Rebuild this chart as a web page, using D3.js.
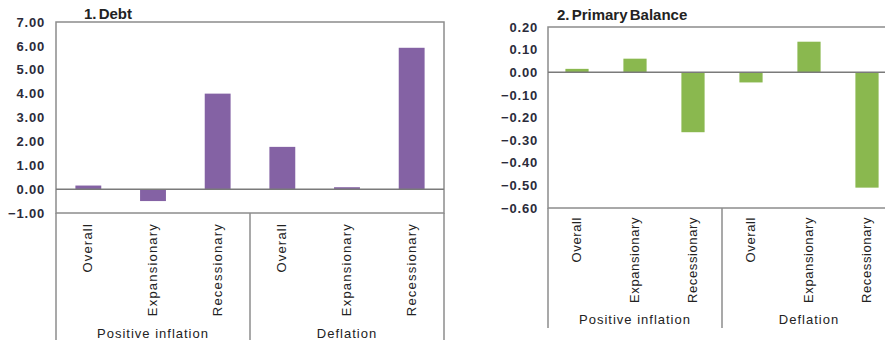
<!DOCTYPE html>
<html>
<head>
<meta charset="utf-8">
<script src="https://cdn.jsdelivr.net/npm/d3@7/dist/d3.min.js"></script>
<style>
  body { margin: 0; background: #fff; }
  svg { display: block; font-family: "Liberation Sans", Arial, sans-serif; }
</style>
</head>
<body>
<svg width="885" height="343"></svg>
<script>
const groups = ["Positive inflation", "Deflation"];
const regimes = ["Overall", "Expansionary", "Recessionary"];
const debtValues = [0.15, -0.50, 4.00, 1.77, 0.08, 5.92];
const balanceValues = [0.015, 0.06, -0.265, -0.045, 0.135, -0.51];
const debtTicks = [-1, 0, 1, 2, 3, 4, 5, 6, 7];
const balanceTicks = [-0.6, -0.5, -0.4, -0.3, -0.2, -0.1, 0, 0.1, 0.2];

const svg = d3.select("svg");
const frameColor = "#8c8c8c";

// one cell per (group, regime)
const cells = [];
groups.forEach((g, gi) => regimes.forEach((r, ri) => cells.push({ key: gi + "-" + ri, group: g, regime: r })));

function drawPanel(opt) {
  const g = svg.append("g");
  const x = d3.scaleBand()
    .domain(cells.map(d => d.key))
    .range([opt.left, opt.right])
    .paddingInner(0.6).paddingOuter(0.3);
  const y = d3.scaleLinear().domain(opt.domain).range([opt.bottom, opt.top]);
  const data = cells.map((c, i) => Object.assign({ value: opt.values[i] }, c));

  // frame
  g.append("rect")
    .attr("x", opt.left).attr("y", opt.top)
    .attr("width", opt.right - opt.left).attr("height", opt.bottom - opt.top)
    .attr("fill", "none").attr("stroke", frameColor).attr("stroke-width", 1.5);

  // bars
  g.selectAll("rect.bar").data(data).enter().append("rect")
    .attr("class", "bar")
    .attr("x", d => x(d.key))
    .attr("width", x.bandwidth())
    .attr("y", d => y(Math.max(0, d.value)))
    .attr("height", d => Math.abs(y(d.value) - y(0)))
    .attr("fill", opt.color);

  // zero line
  g.append("line")
    .attr("x1", opt.left).attr("x2", opt.right)
    .attr("y1", y(0)).attr("y2", y(0))
    .attr("stroke", "#7a7a7a").attr("stroke-width", 1.5);

  // value axis
  const axis = g.append("g")
    .attr("transform", `translate(${opt.left},0)`)
    .call(d3.axisLeft(y).tickValues(opt.ticks).tickSize(0).tickPadding(opt.pad).tickFormat(d3.format(".2f")));
  axis.select(".domain").remove();
  axis.selectAll("text")
    .attr("font-size", 13).attr("font-weight", "bold").attr("fill", "#2b2b3a")
    .attr("letter-spacing", 0.8)
    .attr("font-family", "'Liberation Sans', Arial, sans-serif");

  // category labels
  const step = x.step();
  g.selectAll("text.cat").data(data).enter().append("text")
    .attr("class", "cat")
    .attr("transform", d => `translate(${x(d.key) + x.bandwidth() / 2 + 4},${opt.bottom + opt.catPad})rotate(-90)`)
    .attr("text-anchor", "end")
    .attr("font-size", 13).attr("letter-spacing", opt.catLs).attr("fill", "#222")
    .text(d => d.regime);

  // group separators and labels
  const groupW = step * 3;
  [0, 1, 2].forEach(i => {
    g.append("line")
      .attr("x1", opt.left + i * groupW).attr("x2", opt.left + i * groupW)
      .attr("y1", opt.bottom).attr("y2", opt.sepBottom)
      .attr("stroke", frameColor).attr("stroke-width", 1.5);
  });
  g.selectAll("text.grp").data(groups).enter().append("text")
    .attr("class", "grp")
    .attr("x", (d, i) => opt.left + groupW * (i + 0.5))
    .attr("y", opt.groupY)
    .attr("text-anchor", "middle")
    .attr("font-size", 13).attr("letter-spacing", 1).attr("fill", "#222")
    .text(d => d);

  // title
  g.append("text")
    .attr("x", opt.titleX).attr("y", opt.titleY)
    .attr("font-size", 15).attr("font-weight", "bold").attr("fill", "#222")
    .attr("word-spacing", -2)
    .text(opt.title);
}

drawPanel({
  title: "1. Debt", titleX: 84, titleY: 19,
  left: 56, right: 444, top: 22, bottom: 213,
  domain: [-1, 7], ticks: debtTicks, values: debtValues,
  color: "#8462a4", pad: 11, catPad: 10, catLs: 1.2,
  sepBottom: 340, groupY: 338
});

drawPanel({
  title: "2. Primary Balance", titleX: 557, titleY: 20,
  left: 548, right: 896, top: 27, bottom: 208,
  domain: [-0.6, 0.2], ticks: balanceTicks, values: balanceValues,
  color: "#8ab84f", pad: 10, catPad: 9, catLs: 0.6,
  sepBottom: 328, groupY: 324
});
</script>
</body>
</html>
